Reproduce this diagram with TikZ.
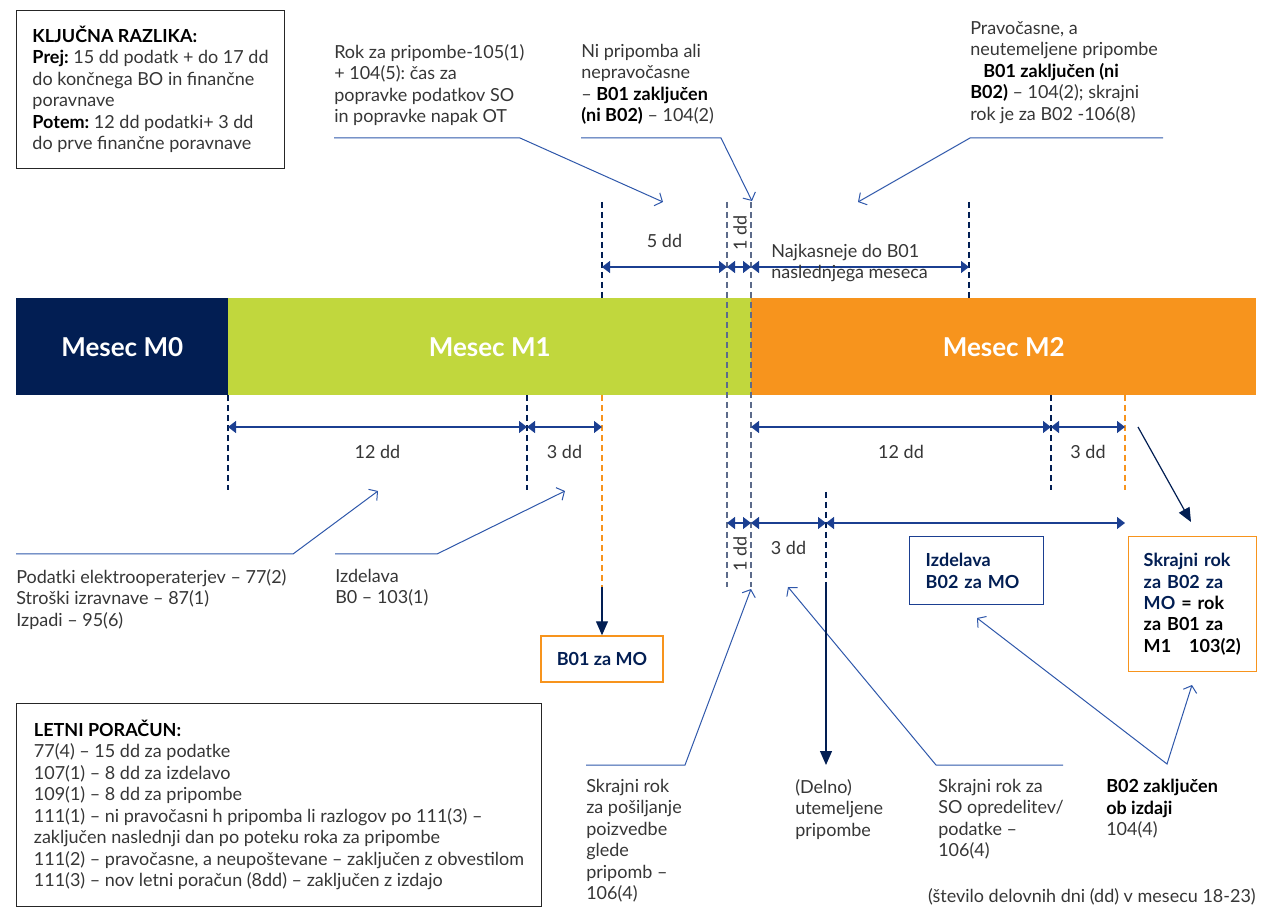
\documentclass[tikz,border=0pt]{standalone}
\usepackage{fontspec}
\setmainfont{Lato}
\usetikzlibrary{arrows.meta,positioning}
\definecolor{navy}{HTML}{021E53}
\definecolor{dimblue}{HTML}{1B3F91}
\definecolor{callblue}{HTML}{2E57AA}
\definecolor{mgreen}{HTML}{C1D73D}
\definecolor{morange}{HTML}{F7941D}
\definecolor{txtgray}{HTML}{363636}
\definecolor{tickgray}{HTML}{5C6B8A}
\newlength{\pxl}
\setlength{\pxl}{0.75pt}
\newcommand{\txtsize}{\fontsize{13.5}{16.1}\selectfont\frenchspacing}
\newcommand{\bk}[1]{\textbf{\color{black}#1}}
\tikzset{
  month/.style={anchor=north west,minimum height=97\pxl,inner sep=0pt,text=white,font=\fontsize{19.5}{22}\selectfont\bfseries},
  dimline/.style={{Triangle[length=6pt,width=9pt]}-{Triangle[length=6pt,width=9pt]},dimblue,line width=0.9pt},
  dashnavy/.style={navy,dash pattern=on 4.5pt off 3pt,line width=0.8pt},
  dashgray/.style={tickgray,dash pattern=on 4.5pt off 3pt,line width=0.8pt},
  dashorange/.style={morange,dash pattern=on 4.5pt off 3pt,line width=0.8pt},
  callout/.style={-{Straight Barb[length=4.5pt,width=10.5pt]},callblue,line width=0.75pt},
  callboth/.style={{Straight Barb[length=4.5pt,width=10.5pt]}-{Straight Barb[length=4.5pt,width=10.5pt]},callblue,line width=0.75pt},
  navyarrow/.style={-{Triangle[length=10.5pt,width=9pt]},navy,line width=0.9pt},
  note/.style={anchor=north west,align=left,inner sep=0pt,text=txtgray,font=\txtsize},
  dimlab/.style={anchor=base,inner sep=0pt,text=txtgray,font=\txtsize},
  infobox/.style={draw=black!85,line width=0.75pt,anchor=north west,align=left,inner xsep=12pt,inner ysep=0pt,font=\txtsize,text=txtgray},
  navybox/.style={draw=dimblue,line width=1.1pt,anchor=north west,align=left,inner xsep=12pt,inner ysep=0pt,font=\txtsize\bfseries,text=navy},
  orangebox/.style={draw=morange,line width=1.1pt,align=left,inner sep=0pt,font=\txtsize\bfseries,text=navy}
}

\begin{document}
\begin{tikzpicture}[x=0.75pt,y=-0.75pt]
\useasboundingbox (0,0) rectangle (1261,912);
% months
\node (m0) [month,fill=navy,minimum width=212\pxl] at (16,298) {Mesec M0};
\node (m1) [month,fill=mgreen,minimum width=523\pxl] at (228,298) {Mesec M1};
\node (m2) [month,fill=morange,minimum width=505\pxl] at (751,298) {Mesec M2};
%
\draw[dashnavy] (602,202) -- (602,298);
\draw[dashgray] (727,202) -- (727,587);
\draw[dashgray] (751,202) -- (751,587);
\draw[dashnavy] (969,202) -- (969,298);
\draw[dashnavy] (228,395) -- (228,490);
\draw[dashnavy] (527,395) -- (527,490);
\draw[dashorange] (602,395) -- (602,587);
\draw[dashnavy] (1051,395) -- (1051,490);
\draw[dashorange] (1125,395) -- (1125,490);
\draw[dashnavy] (826,492) -- (826,587);
%
\coordinate (a1) at (602,267);
\coordinate (a2) at (727,267);
\coordinate (a3) at (751,267);
\coordinate (a4) at (969,267);
\path[dimline] (a1) edge node[dimlab,yshift=14.25pt] {5 dd} (a2);
\path[dimline] (a2) edge (a3);
\path[dimline] (a3) edge (a4);
\node (oneA) [dimlab,anchor=center,rotate=90] at (740,233) {1 dd};
\node (najk) [note] at (771,244) {Najkasneje do B01\\naslednjega meseca};
%
\coordinate (b1) at (228,427);
\coordinate (b2) at (527,427);
\coordinate (b3) at (602,427);
\coordinate (b4) at (751,427);
\coordinate (b5) at (1051,427);
\coordinate (b6) at (1125,427);
\path[dimline] (b1) edge node[dimlab,yshift=-24pt] {12 dd} (b2);
\path[dimline] (b2) edge node[dimlab,yshift=-24pt] {3 dd} (b3);
\path[dimline] (b4) edge node[dimlab,yshift=-24pt] {12 dd} (b5);
\path[dimline] (b5) edge node[dimlab,yshift=-24pt] {3 dd} (b6);
%
\coordinate (c1) at (727,523);
\coordinate (c2) at (751,523);
\coordinate (c3) at (826,523);
\coordinate (c4) at (1125,523);
\path[dimline] (c1) edge (c2);
\path[dimline] (c2) edge node[dimlab,yshift=-24pt] {3 dd} (c3);
\path[dimline] (c3) edge (c4);
\node (oneB) [dimlab,anchor=center,rotate=90] at (740,554) {1 dd};
%
% boxes
\node (kljucna) [infobox,minimum width=266\pxl,minimum height=158\pxl] at (16,10)
  {\bk{KLJUČNA RAZLIKA:}\\\bk{Prej:} 15 dd podatk + do 17 dd\\do končnega BO in finančne\\poravnave\\\bk{Potem:} 12 dd podatki+ 3 dd\\do prve finančne poravnave};
\node (letni) [infobox,minimum width=525\pxl,minimum height=203\pxl] at (16,703)
  {\bk{LETNI PORAČUN:}\\77(4) – 15 dd za podatke\\107(1) – 8 dd za izdelavo\\109(1) – 8 dd za pripombe\\111(1) – ni pravočasni h pripomba li razlogov po 111(3) –\\zaključen naslednji dan po poteku roka za pripombe\\111(2) – pravočasne, a neupoštevane – zaključen z obvestilom\\111(3) – nov letni poračun (8dd) – zaključen z izdajo};
\node (b01) [orangebox,minimum width=122\pxl,minimum height=46\pxl] at (602,659) {B01 za MO};
\node (izdb02) [navybox,text width=102\pxl,minimum height=68\pxl] at (909,536) {Izdelava\\B02 za MO};
\node (skrok) [orangebox,anchor=north west,inner xsep=11.25pt,text width=98\pxl,minimum height=135\pxl] at (1128,536)
  {Skrajni rok\\za B02 za\\MO {\color{black}= rok}\\{\color{black}za B01 za}\\{\color{black}M1\quad 103(2)}};
%
% notes
\node (rok) [note] at (334,44) {Rok za pripombe-105(1)\\+ 104(5): čas za\\popravke podatkov SO\\in popravke napak OT};
\node (nipr) [note] at (581,44) {Ni pripomba ali\\nepravočasne\\– \bk{B01 zaključen}\\\bk{(ni B02)} – 104(2)};
\node (pravo) [note] at (970,21) {Pravočasne, a\\neutemeljene pripombe\\\hspace*{13\pxl}\bk{B01 zaključen (ni}\\\bk{B02)} – 104(2); skrajni\\rok je za B02 -106(8)};
\node (podatki) [note] at (16,569) {Podatki elektrooperaterjev – 77(2)\\Stroški izravnave – 87(1)\\Izpadi – 95(6)};
\node (izdb0) [note] at (335,569) {Izdelava\\B0 – 103(1)};
\node (poslj) [note] at (586,779) {Skrajni rok\\za pošiljanje\\poizvedbe\\glede\\pripomb –\\106(4)};
\node (delno) [note] at (795,779) {(Delno)\\utemeljene\\pripombe};
\node (sorok) [note] at (938,779) {Skrajni rok za\\SO opredelitev/\\podatke –\\106(4)};
\node (b02zak) [note] at (1106,779) {\bk{B02 zaključen}\\\bk{ob izdaji}\\104(4)};
\node (stevilo) [note,anchor=north east] at (1256,888) {(število delovnih dni (dd) v mesecu 18-23)};
%
% callouts
\coordinate (r1) at (334,138);
\coordinate (r2) at (520,138);
\coordinate (r3) at (663,202);
\coordinate (n1) at (581,138);
\coordinate (n2) at (721,138);
\coordinate (n3) at (752,201);
\coordinate (p1) at (1163,138);
\coordinate (p2) at (970,138);
\coordinate (p3) at (858,202);
\coordinate (d1) at (16,554);
\coordinate (d2) at (293,554);
\coordinate (d3) at (378,491);
\coordinate (i1) at (335,554);
\coordinate (i2) at (437,554);
\coordinate (i3) at (565,491);
\coordinate (s1) at (586,765);
\coordinate (s2) at (685,765);
\coordinate (s3) at (751,589);
\coordinate (o1) at (1063,765);
\coordinate (o2) at (936,765);
\coordinate (o3) at (788,587);
\coordinate (z1) at (977,618);
\coordinate (z2) at (1167,764);
\coordinate (z3) at (1192,685);
\draw[callout] (r1) -- (r2) -- (r3);
\draw[callout] (n1) -- (n2) -- (n3);
\draw[callout] (p1) -- (p2) -- (p3);
\draw[callout] (d1) -- (d2) -- (d3);
\draw[callout] (i1) -- (i2) -- (i3);
\draw[callout] (s1) -- (s2) -- (s3);
\draw[callout] (o1) -- (o2) -- (o3);
\draw[callboth] (z1) -- (z2) -- (z3);
%
\coordinate (b01in) at (602,587);
\coordinate (delA) at (826,587);
\coordinate (delB) at (826,765);
\coordinate (skA) at (1138,427);
\coordinate (skB) at (1191,522);
\path[navyarrow] (b01in) edge (b01.north);
\path[navyarrow] (delA) edge (delB);
\path[navyarrow] (skA) edge (skB);
\end{tikzpicture}
\end{document}
